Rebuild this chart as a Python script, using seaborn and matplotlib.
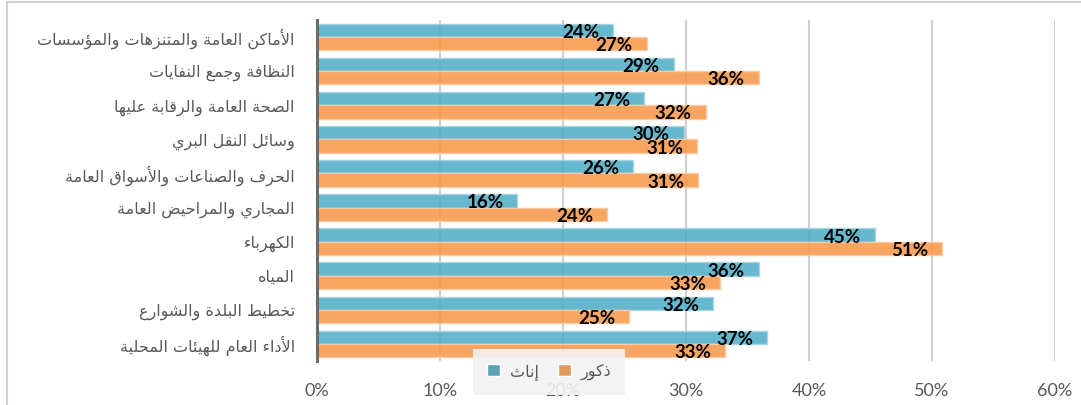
import seaborn as sns
import pandas as pd
import matplotlib.pyplot as plt
from matplotlib.lines import Line2D

categories = [
    "الأماكن العامة والمتنزهات والمؤسسات",
    "النظافة وجمع النفايات",
    "الصحة العامة والرقابة عليها",
    "وسائل النقل البري",
    "الحرف والصناعات والأسواق العامة",
    "المجاري والمراحيض العامة",
    "الكهرباء",
    "المياه",
    "تخطيط البلدة والشوارع",
    "الأداء العام للهيئات المحلية",
]
females = [24.1, 29.0, 26.6, 29.8, 25.7, 16.3, 45.4, 35.9, 32.2, 36.6]
males = [26.8, 35.9, 31.6, 30.9, 31.0, 23.6, 50.8, 32.8, 25.4, 33.2]
series_names = ["إناث", "ذكور"]
xticks = [0, 10, 20, 30, 40, 50, 60]

# matplotlib has no arabic shaping, so map letters to presentation forms
# (isolated, final, initial, medial follow each other from the base code)
AR_FORMS = {'ء': 0xFE80, 'آ': 0xFE81, 'أ': 0xFE83, 'ؤ': 0xFE85, 'إ': 0xFE87,
            'ئ': 0xFE89, 'ا': 0xFE8D, 'ب': 0xFE8F, 'ة': 0xFE93, 'ت': 0xFE95,
            'ث': 0xFE99, 'ج': 0xFE9D, 'ح': 0xFEA1, 'خ': 0xFEA5, 'د': 0xFEA9,
            'ذ': 0xFEAB, 'ر': 0xFEAD, 'ز': 0xFEAF, 'س': 0xFEB1, 'ش': 0xFEB5,
            'ص': 0xFEB9, 'ض': 0xFEBD, 'ط': 0xFEC1, 'ظ': 0xFEC5, 'ع': 0xFEC9,
            'غ': 0xFECD, 'ف': 0xFED1, 'ق': 0xFED5, 'ك': 0xFED9, 'ل': 0xFEDD,
            'م': 0xFEE1, 'ن': 0xFEE5, 'ه': 0xFEE9, 'و': 0xFEED, 'ى': 0xFEEF,
            'ي': 0xFEF1}
RIGHT_ONLY = set('آأؤإادذرزوةى')
LAM_ALEF = {'آ': 0xFEF5, 'أ': 0xFEF7, 'إ': 0xFEF9, 'ا': 0xFEFB}


def shape(text):
    items = []
    i = 0
    while i < len(text):
        c = text[i]
        if c == 'ل' and i + 1 < len(text) and text[i + 1] in LAM_ALEF:
            items.append(('LA', text[i + 1]))
            i += 2
        else:
            items.append((c, None))
            i += 1

    def joins_next(it):
        return it[0] in AR_FORMS and it[0] not in RIGHT_ONLY and it[0] != 'ء'

    def joins_prev(it):
        return it[0] == 'LA' or (it[0] in AR_FORMS and it[0] != 'ء')

    res = []
    for k, it in enumerate(items):
        p = k > 0 and joins_next(items[k - 1]) and joins_prev(it)
        n = k + 1 < len(items) and joins_next(it) and joins_prev(items[k + 1])
        c, a = it
        if c == 'LA':
            res.append(chr(LAM_ALEF[a] + (1 if p else 0)))
        elif c in AR_FORMS:
            base = AR_FORMS[c]
            if c == 'ء':
                res.append(chr(base))
            elif p and n:
                res.append(chr(base + 3))
            elif n:
                res.append(chr(base + 2))
            elif p:
                res.append(chr(base + 1))
            else:
                res.append(chr(base))
        else:
            res.append(c)
    return ''.join(res[::-1])


labels = [shape(c) for c in categories]
df = pd.DataFrame({
    "category": labels * 2,
    "value": females + males,
    "sex": [shape(series_names[0])] * len(females) + [shape(series_names[1])] * len(males),
})

sns.set_style("white")
plt.rcParams['font.family'] = ['Lato', 'DejaVu Sans']

fig = plt.figure(figsize=(10.81, 4.05), dpi=100)
ax = fig.add_axes([317 / 1081, 1 - 361 / 405, (1055 - 317) / 1081, 341 / 405])

face = ["#4BACC6", "#F79646"]
edge = ["#a6d6e3", "#fbcaa2"]
sns.barplot(data=df, x="value", y="category", hue="sex", orient="h",
            palette=face, width=0.78, ax=ax, zorder=2)

vals = [females, males]
for i, cont in enumerate(ax.containers):
    for bar, v in zip(cont, vals[i]):
        bar.set_facecolor(plt.matplotlib.colors.to_rgba(face[i], 0.85))
        bar.set_edgecolor(edge[i])
        bar.set_linewidth(1.0)
        ax.annotate(f"{v:.0f}%", (bar.get_width(), bar.get_y() + bar.get_height() / 2),
                    xytext=(-10, -1.5), textcoords="offset points", ha="right", va="center",
                    fontsize=13.5, fontweight="bold", color="black", zorder=5)

ax.set_xlim(0, 60)
ax.set_xticks(xticks)
ax.set_xticklabels([f"{t}%" for t in xticks])
ax.set_xlabel("")
ax.set_ylabel("")
ax.grid(axis="x", color="#cfcfcf", linewidth=1.5, zorder=0)
ax.set_axisbelow(True)
for s in ["top", "right", "bottom"]:
    ax.spines[s].set_visible(False)
ax.spines["left"].set_color("#6b6b6b")
ax.spines["left"].set_linewidth(2.2)
ax.spines["left"].set_zorder(4)
ax.tick_params(axis="x", length=0, pad=16, labelsize=13, labelcolor="#595959")
ax.tick_params(axis="y", length=0, pad=16, labelcolor="#595959")
for t in ax.get_yticklabels():
    t.set_fontfamily("DejaVu Sans")
    t.set_fontsize(11.5)

handles, leg_labels = ax.get_legend_handles_labels()
leg = ax.legend(handles, leg_labels, ncol=2, loc="center",
                bbox_to_anchor=(549 / 1081, 1 - 372 / 405), bbox_transform=fig.transFigure,
                frameon=True, fancybox=False, handlelength=0.8, handleheight=0.8,
                handletextpad=0.6, columnspacing=1.2, borderpad=0.9,
                prop={"family": "DejaVu Sans", "size": 11.5})
leg.get_frame().set_facecolor("#f2f2f2")
leg.get_frame().set_alpha(0.9)
leg.get_frame().set_edgecolor("none")
leg.set_zorder(6)
for t in leg.get_texts():
    t.set_color("#595959")

# outer frame of the chart
fig.add_artist(Line2D([7 / 1081, 1], [1 - 1.5 / 405] * 2, color="#d0d0d0", linewidth=1.5))
fig.add_artist(Line2D([7 / 1081] * 2, [0, 1 - 1.5 / 405], color="#d0d0d0", linewidth=1.5))

fig.savefig("out.png", dpi=100)
